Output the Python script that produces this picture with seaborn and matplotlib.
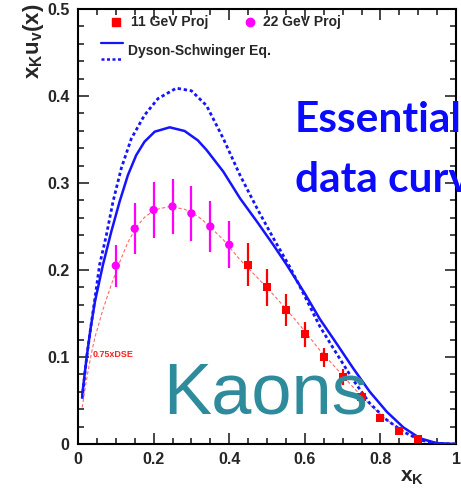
import matplotlib
matplotlib.use("Agg")
import matplotlib.pyplot as plt
from matplotlib.ticker import MultipleLocator, FuncFormatter
import seaborn as sns
import pandas as pd

# Dyson-Schwinger curve, solid
dse_x = [0.011, 0.023, 0.034, 0.045, 0.066, 0.088, 0.110, 0.132, 0.154, 0.176,
         0.203, 0.2425, 0.282, 0.317, 0.340, 0.3845, 0.4286, 0.4735, 0.517, 0.552,
         0.600, 0.640, 0.684, 0.728, 0.772, 0.817, 0.861, 0.905, 0.949, 1.000]
dse_solid = [0.056, 0.100, 0.135, 0.164, 0.206, 0.244, 0.2785, 0.309, 0.332, 0.3475,
             0.359, 0.364, 0.3598, 0.349, 0.338, 0.313, 0.2824, 0.2556, 0.2287, 0.206,
             0.173, 0.1435, 0.1155, 0.087, 0.060, 0.037, 0.019, 0.0065, 0.001, 0.0]

# Dyson-Schwinger curve, dashed
dash_x = [0.011, 0.023, 0.034, 0.045, 0.057, 0.075, 0.0926, 0.1146, 0.141, 0.176,
          0.2116, 0.260, 0.300, 0.340, 0.3845, 0.4286, 0.4735, 0.517, 0.561, 0.587,
          0.640, 0.684, 0.728, 0.772, 0.817, 0.861, 0.905, 0.950, 1.000]
dse_dash = [0.052, 0.100, 0.135, 0.168, 0.2057, 0.240, 0.2785, 0.317, 0.351, 0.378,
            0.397, 0.409, 0.406, 0.389, 0.351, 0.309, 0.271, 0.2364, 0.203, 0.181,
            0.135, 0.104, 0.0736, 0.0467, 0.0276, 0.014, 0.0046, 0.0005, 0.0]

scale_75 = 0.75

# projections
x_22 = [0.10, 0.15, 0.20, 0.25, 0.30, 0.35, 0.40]
y_22 = [0.205, 0.2475, 0.269, 0.273, 0.265, 0.250, 0.229]
e_22 = [0.024, 0.029, 0.032, 0.032, 0.032, 0.0295, 0.027]

x_11 = [0.45, 0.50, 0.55, 0.60, 0.65, 0.70, 0.75, 0.80, 0.85, 0.90]
y_11 = [0.206, 0.180, 0.154, 0.126, 0.0996, 0.077, 0.054, 0.030, 0.015, 0.0056]
e_11 = [0.0245, 0.0215, 0.018, 0.0144, 0.011, 0.009, 0.006, 0.004, 0.003, 0.002]

blue = "#1414ff"

sns.set_style("ticks")
plt.rcParams["font.family"] = ["Liberation Sans", "DejaVu Sans"]
plt.rcParams["mathtext.fontset"] = "custom"
plt.rcParams["mathtext.rm"] = "Liberation Sans"
plt.rcParams["mathtext.bf"] = "Liberation Sans:bold"
plt.rcParams["mathtext.it"] = "Liberation Sans:italic"

fig = plt.figure(figsize=(4.61, 4.91), dpi=100)
ax = fig.add_axes([78 / 461, 47 / 491, 378 / 461, 435 / 491])

solid_df = pd.DataFrame({"x": dse_x, "y": dse_solid})
dash_df = pd.DataFrame({"x": dash_x, "y": dse_dash})
red_df = pd.DataFrame({"x": dse_x, "y": [v * scale_75 for v in dse_solid]})

sns.lineplot(data=red_df, x="x", y="y", ax=ax, color="#ff6a6a", lw=0.8,
             linestyle=(0, (3, 2)), zorder=2)
sns.lineplot(data=solid_df, x="x", y="y", ax=ax, color=blue, lw=1.8, zorder=3)
sns.lineplot(data=dash_df, x="x", y="y", ax=ax, color=blue, lw=2.0,
             linestyle=(0, (1.2, 1.0)), zorder=3)

ax.errorbar(x_22, y_22, yerr=e_22, fmt="none", ecolor="#ff00ff", elinewidth=1.6, capsize=0, zorder=4)
ax.errorbar(x_11, y_11, yerr=e_11, fmt="none", ecolor="#ff0000", elinewidth=1.6, capsize=0, zorder=4)
sns.scatterplot(x=x_22, y=y_22, ax=ax, marker="o", s=36, color="#ff00ff", edgecolor="none", zorder=5)
sns.scatterplot(x=x_11, y=y_11, ax=ax, marker="s", s=34, color="#ff0000", edgecolor="none", zorder=5)

ax.set_xlim(0, 1)
ax.set_ylim(0, 0.5)
ax.set_xlabel("")
ax.set_ylabel("")
fmt = FuncFormatter(lambda v, p: "0" if abs(v) < 1e-9 else ("1" if abs(v - 1) < 1e-9 else f"{v:.1f}"))
ax.xaxis.set_major_locator(MultipleLocator(0.2))
ax.xaxis.set_minor_locator(MultipleLocator(0.05))
ax.yaxis.set_major_locator(MultipleLocator(0.1))
ax.yaxis.set_minor_locator(MultipleLocator(0.02))
ax.xaxis.set_major_formatter(fmt)
ax.yaxis.set_major_formatter(fmt)
ax.tick_params(which="both", direction="in", top=True, right=True, width=1.2)
ax.tick_params(which="major", length=8, labelsize=11.5, pad=6)
ax.tick_params(which="minor", length=4)
for lab in ax.get_xticklabels() + ax.get_yticklabels():
    lab.set_fontweight("bold")
for sp in ax.spines.values():
    sp.set_linewidth(1.5)
    sp.set_color("black")

# axis titles
ax.text(-0.118, 0.925, r"$\mathbf{x_{K}u_{v}(x)}$", transform=ax.transAxes, rotation=90,
        ha="center", va="center", fontsize=16)
ax.text(0.915, -0.078, r"$\mathbf{x_{K}}$", transform=ax.transAxes, ha="right",
        va="center", fontsize=15)

# legend
ax.plot([0.1005], [0.970], marker="s", ms=6, color="#ff0000", ls="none", transform=ax.transAxes, clip_on=False)
ax.text(0.140, 0.970, "11 GeV Proj", transform=ax.transAxes, va="center", fontsize=10, fontweight="bold")
ax.plot([0.455], [0.970], marker="o", ms=6, color="#ff00ff", ls="none", transform=ax.transAxes, clip_on=False)
ax.text(0.489, 0.970, "22 GeV Proj", transform=ax.transAxes, va="center", fontsize=10, fontweight="bold")
ax.plot([0.061, 0.119], [0.922, 0.922], color=blue, lw=1.6, transform=ax.transAxes)
ax.plot([0.061, 0.119], [0.885, 0.885], color=blue, lw=1.8, ls=(0, (1.2, 1.0)), transform=ax.transAxes)
ax.text(0.132, 0.903, "Dyson-Schwinger Eq.", transform=ax.transAxes, va="center", fontsize=10, fontweight="bold")

ax.text(0.040, 0.206, "0.75xDSE", transform=ax.transAxes, va="center", fontsize=6.5,
        fontweight="bold", color="#ff2020")

# slide overlays
fig.text(163 / 461, 1 - 413 / 491, "Kaons", fontsize=52, color="#2e8b9b",
         ha="left", va="baseline", zorder=1)
fig.text(295 / 461, 1 - 132 / 491, "Essential", fontsize=30.5, fontweight="bold",
         family=["Lato", "DejaVu Sans"], color="#0a0aff", ha="left", va="baseline")
fig.text(295 / 461, 1 - 192 / 491, "data curves", fontsize=30.5, fontweight="bold",
         family=["Lato", "DejaVu Sans"], color="#0a0aff", ha="left", va="baseline")

plt.savefig("out.png", dpi=100)
plt.close()
